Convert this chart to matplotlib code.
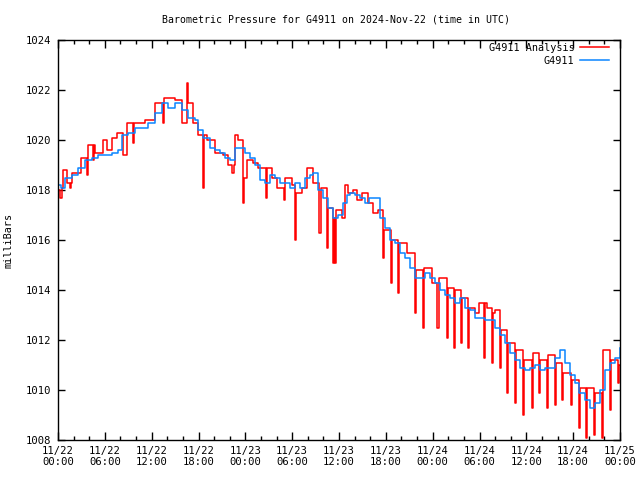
import matplotlib
matplotlib.use("Agg")
import matplotlib.pyplot as plt
from matplotlib.ticker import MultipleLocator, FixedLocator
import numpy as np

title = "Barometric Pressure for G4911 on 2024-Nov-22 (time in UTC)"
ylabel = "milliBars"
series_names = ["G4911 Analysis", "G4911"]
x_tick_labels = ["11/22\n00:00", "11/22\n06:00", "11/22\n12:00", "11/22\n18:00",
                 "11/23\n00:00", "11/23\n06:00", "11/23\n12:00", "11/23\n18:00",
                 "11/24\n00:00", "11/24\n06:00", "11/24\n12:00", "11/24\n18:00",
                 "11/25\n00:00"]
y_ticks = [1008, 1010, 1012, 1014, 1016, 1018, 1020, 1022, 1024]

# hours since 2024-11-22 00:00 UTC
analysis_hours = [0.0, 0.3, 0.45, 0.6, 1.2, 1.5, 1.65, 1.8, 2.9, 3.7, 3.85, 4.5, 4.6, 4.7,
                  5.8, 6.3, 6.9, 7.6, 8.3, 8.8, 9.6, 9.75, 11.1, 12.4, 13.4, 13.6, 15.0,
                  15.9, 16.5, 16.6, 17.3, 17.9, 18.6, 18.75, 19.1, 20.1, 21.1, 21.8, 22.3,
                  22.5, 22.7, 23.1, 23.7, 23.85, 24.2, 25.0, 25.6, 26.6, 26.75, 27.4, 28.1,
                  28.9, 29.1, 30.0, 30.35, 30.5, 31.3, 31.9, 32.7, 33.5, 33.65, 34.5, 34.65,
                  35.2, 35.3, 35.5, 35.6, 36.4, 36.8, 37.2, 37.8, 38.3, 39.0, 39.7, 40.4,
                  41.0, 41.65, 41.8, 42.65, 42.8, 43.6, 43.75, 44.7, 45.7, 45.85, 46.8,
                  46.95, 47.9, 48.6, 48.75, 49.8, 49.95, 50.7, 50.85, 51.65, 51.8, 52.5,
                  52.65, 53.4, 53.9, 54.55, 54.7, 55.0, 55.6, 55.75, 56.0, 56.6, 56.75,
                  57.5, 57.65, 58.5, 58.65, 59.55, 59.7, 60.7, 60.85, 61.6, 61.75, 62.6,
                  62.75, 63.7, 63.85, 64.6, 64.75, 65.7, 65.85, 66.75, 66.9, 67.6, 67.75,
                  68.65, 68.8, 69.7, 69.85, 70.7, 70.85, 71.7, 71.85, 72.0]
analysis_values = [1018.0, 1017.7, 1018.1, 1018.8, 1018.3, 1018.1, 1018.3, 1018.7, 1019.3,
                   1018.6, 1019.8, 1019.2, 1019.8, 1019.5, 1020.0, 1019.6, 1020.1, 1020.3,
                   1019.4, 1020.7, 1019.9, 1020.7, 1020.8, 1021.5, 1020.7, 1021.7, 1021.6,
                   1020.7, 1022.3, 1021.5, 1020.7, 1020.2, 1018.1, 1020.2, 1020.0, 1019.5,
                   1019.4, 1019.0, 1018.7, 1019.0, 1020.2, 1020.0, 1017.5, 1018.5, 1019.2,
                   1019.1, 1018.9, 1017.7, 1018.9, 1018.5, 1018.1, 1017.6, 1018.5, 1018.2,
                   1016.0, 1017.9, 1018.1, 1018.9, 1018.3, 1016.3, 1018.1, 1015.7, 1017.3,
                   1015.1, 1016.9, 1015.1, 1017.2, 1016.9, 1018.2, 1017.9, 1018.0, 1017.6,
                   1017.9, 1017.5, 1017.1, 1017.2, 1015.3, 1016.4, 1014.3, 1016.0, 1013.9,
                   1015.9, 1015.5, 1013.1, 1014.8, 1012.5, 1014.9, 1014.3, 1012.5, 1014.5,
                   1012.1, 1014.1, 1011.7, 1014.0, 1011.9, 1013.7, 1011.7, 1013.3, 1013.1,
                   1013.5, 1011.3, 1013.5, 1013.3, 1011.1, 1013.1, 1013.2, 1010.9, 1012.4,
                   1009.9, 1011.9, 1009.5, 1011.6, 1009.0, 1011.2, 1009.3, 1011.5, 1009.9,
                   1011.2, 1009.3, 1011.4, 1009.4, 1011.1, 1009.6, 1010.7, 1009.4, 1010.4,
                   1008.5, 1010.1, 1008.1, 1010.1, 1008.2, 1009.9, 1008.1, 1011.6, 1009.2,
                   1011.2, 1010.3, 1011.0, 1011.0]

station_hours = [0.0, 0.4, 0.9, 1.8, 2.6, 3.5, 4.3, 5.1, 6.0, 6.9, 7.7, 8.2, 9.0, 9.9, 10.8,
                 11.5, 12.4, 13.3, 14.1, 15.0, 15.9, 16.7, 17.6, 17.9, 18.6, 19.5, 20.1,
                 20.8, 21.4, 22.0, 22.7, 23.3, 24.0, 24.6, 25.2, 25.9, 26.5, 27.2, 27.8,
                 28.4, 29.1, 29.7, 30.4, 31.0, 31.6, 32.3, 32.7, 33.3, 33.9, 34.6, 35.2,
                 35.9, 36.5, 37.0, 37.4, 38.0, 38.7, 39.3, 39.9, 40.6, 41.3, 41.9, 42.5,
                 43.2, 43.8, 44.4, 45.1, 45.7, 46.4, 47.0, 47.6, 48.3, 48.9, 49.6, 50.2,
                 50.9, 51.5, 52.1, 52.8, 53.4, 54.1, 54.7, 55.3, 56.0, 56.6, 57.3, 57.9,
                 58.5, 59.2, 59.8, 60.5, 61.1, 61.7, 62.4, 63.0, 63.7, 64.3, 64.9, 65.6,
                 66.2, 66.8, 67.5, 68.1, 68.8, 69.4, 70.1, 70.7, 71.4, 72.0]
station_values = [1018.2, 1018.1, 1018.5, 1018.6, 1018.9, 1019.2, 1019.3, 1019.4, 1019.4,
                  1019.5, 1019.6, 1020.2, 1020.3, 1020.5, 1020.5, 1020.7, 1021.1, 1021.5,
                  1021.3, 1021.5, 1021.2, 1020.9, 1020.8, 1020.4, 1020.1, 1019.7, 1019.6,
                  1019.5, 1019.3, 1019.2, 1019.7, 1019.7, 1019.5, 1019.3, 1019.0, 1018.4,
                  1018.3, 1018.6, 1018.5, 1018.3, 1018.3, 1018.1, 1018.3, 1018.1, 1018.5,
                  1018.6, 1018.7, 1018.0, 1017.7, 1017.3, 1016.9, 1017.0, 1017.5, 1017.8,
                  1017.9, 1017.8, 1017.7, 1017.5, 1017.7, 1017.7, 1016.9, 1016.5, 1016.0,
                  1015.9, 1015.5, 1015.3, 1014.9, 1014.5, 1014.5, 1014.7, 1014.5, 1014.3,
                  1014.0, 1013.8, 1013.7, 1013.5, 1013.7, 1013.3, 1013.2, 1012.9, 1012.9,
                  1012.8, 1012.8, 1012.5, 1012.2, 1011.9, 1011.5, 1011.2, 1010.9, 1010.8,
                  1010.9, 1011.0, 1010.8, 1010.9, 1010.9, 1011.3, 1011.6, 1011.1, 1010.6,
                  1010.3, 1009.9, 1009.6, 1009.3, 1009.5, 1010.0, 1010.8, 1011.1, 1011.3,
                  1011.7]

mono = "DejaVu Sans Mono"
plt.rcParams['font.family'] = mono

fig = plt.figure(figsize=(6.4, 4.8), dpi=100)
ax = fig.add_axes([58/640, 40/480, (620-58)/640, (440-40)/480])

ax.plot(analysis_hours, analysis_values, drawstyle='steps-post', color='#ff0000',
        lw=1.1, label=series_names[0])
ax.plot(station_hours, station_values, drawstyle='steps-post', color='#0a85ff',
        lw=1.1, label=series_names[1])

ax.set_xlim(0, 72)
ax.set_ylim(1008, 1024)
ax.xaxis.set_major_locator(FixedLocator(np.arange(0, 73, 6)))
ax.xaxis.set_minor_locator(MultipleLocator(2))
ax.set_xticklabels(x_tick_labels)
ax.set_yticks(y_ticks)
ax.set_yticklabels([str(v) for v in y_ticks])
ax.tick_params(which='both', direction='in', top=True, right=True, labelsize=7.6,
               width=1, colors='black')
ax.tick_params(which='major', length=6, pad=4)
ax.tick_params(which='minor', length=3)
ax.tick_params(axis='y', which='major', length=5, pad=5)
for s in ax.spines.values():
    s.set_linewidth(1.0)

ax.set_ylabel(ylabel, fontsize=7.3, labelpad=9)
fig.text(336/640, 1 - 20/480, title, ha='center', va='center', fontsize=7.1)

leg = ax.legend(loc='upper right', frameon=False, markerfirst=False, fontsize=7.3,
                handlelength=2.9, handletextpad=0.5, borderaxespad=0, borderpad=0,
                labelspacing=0.3,
                bbox_to_anchor=(609/640, 1 - 43/480), bbox_transform=fig.transFigure)
for t in leg.get_texts():
    t.set_ha('right')

fig.savefig("out.png", dpi=100)
